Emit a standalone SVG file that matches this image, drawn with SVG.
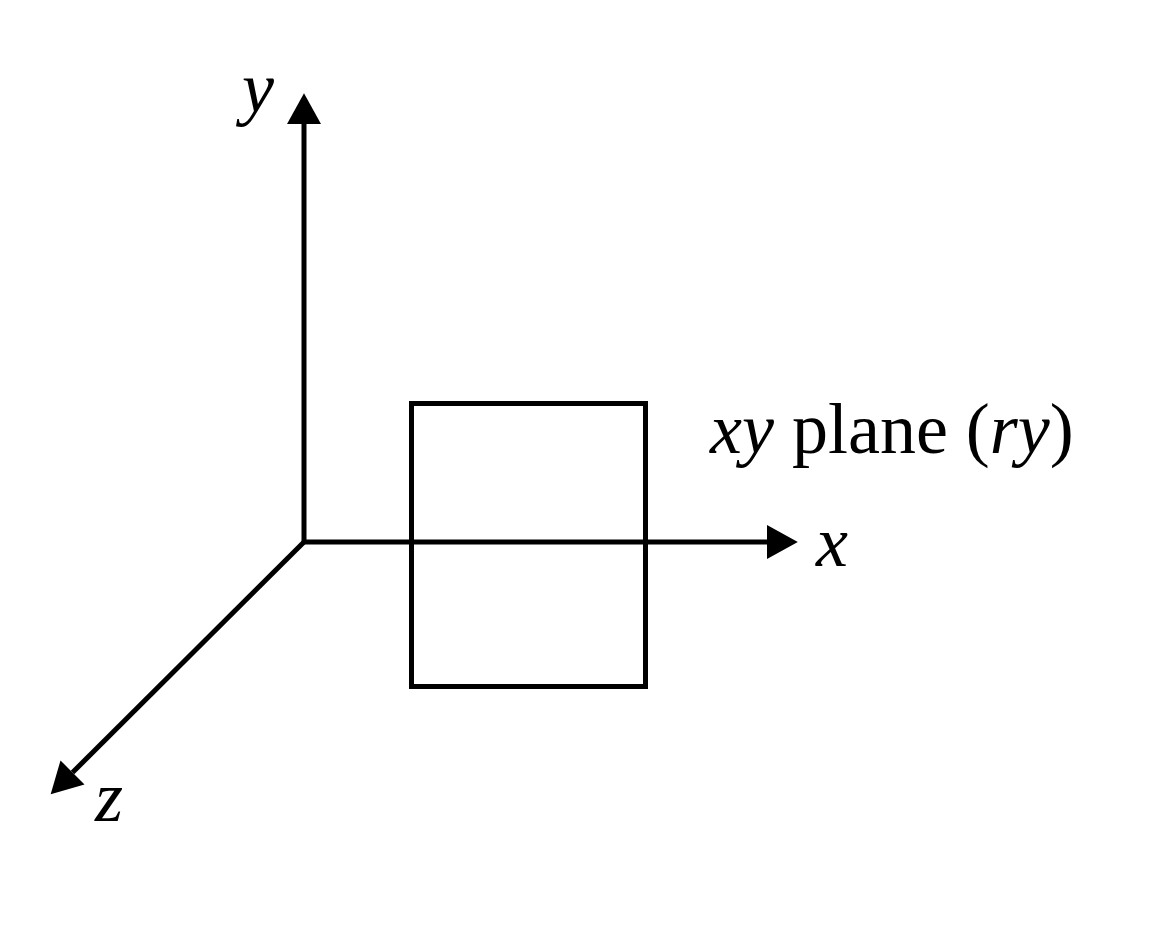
<svg xmlns="http://www.w3.org/2000/svg" width="1152" height="948" viewBox="0 0 1152 948">
<style>
.ax{fill:none;stroke:#000;stroke-width:5}
.lbl{font-family:"Liberation Serif","Times New Roman",serif;font-size:72px;fill:#000}
.it{font-style:italic}
</style>
<defs>
<marker id="ah" markerUnits="userSpaceOnUse" markerWidth="32" markerHeight="34" viewBox="0 0 30 32" refX="0" refY="16" orient="auto-start-reverse" overflow="visible">
<path d="M0,0 L29,16 L0,32 z" fill="#000"/>
</marker>
</defs>
<rect width="1152" height="948" fill="#fff"/>
<g id="connectors">
<path id="xy-axes" class="ax" d="M304,124 L304,542 L767,542" marker-start="url(#ah)" marker-end="url(#ah)" stroke-linejoin="miter"/>
<line id="z-axis" class="ax" x1="305" y1="541" x2="72.5" y2="772.5" marker-end="url(#ah)"/>
</g>
<g id="plane">
<rect class="ax" x="411.5" y="403.5" width="234" height="283"/>
</g>
<g id="labels">
<text class="lbl it" x="242" y="112">y</text>
<text class="lbl it" x="816" y="566">x</text>
<text class="lbl it" x="95" y="821">z</text>
<text class="lbl" x="710" y="453"><tspan class="it">xy</tspan> plane (<tspan class="it">ry</tspan>)</text>
</g>
</svg>
